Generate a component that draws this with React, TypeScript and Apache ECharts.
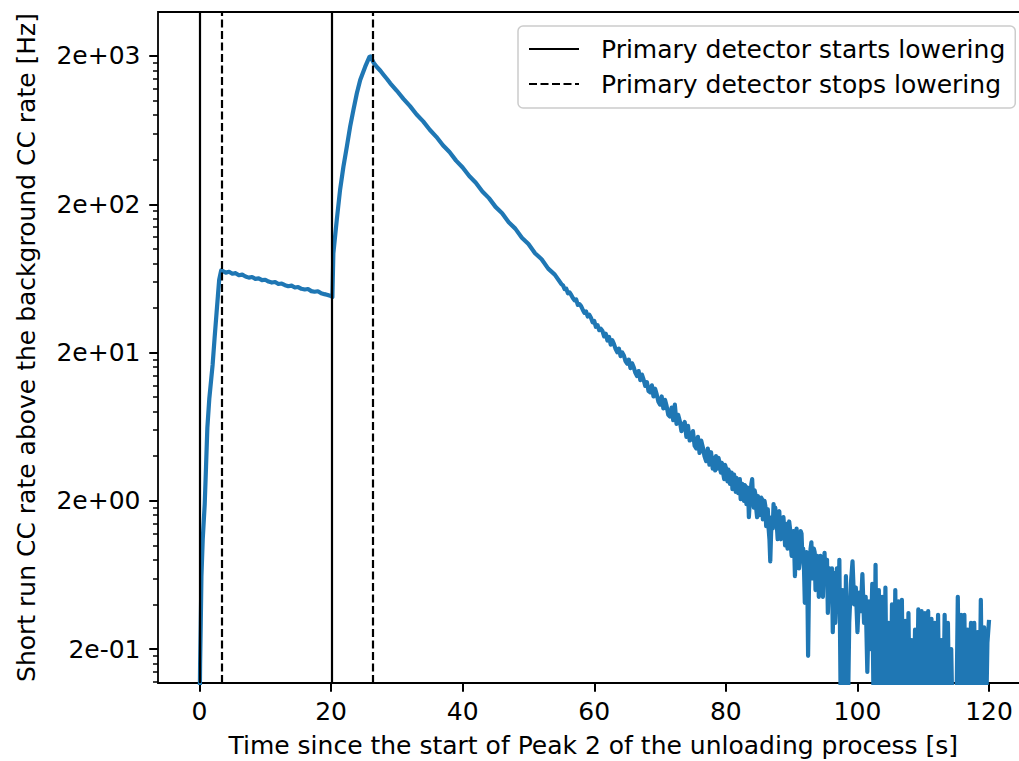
import React, { useEffect, useRef } from "react";
import * as echarts from "echarts";

const FONT = "'DejaVu Sans', 'Liberation Sans', sans-serif";

const xTitle = "Time since the start of Peak 2 of the unloading process [s]";
const yTitle = "Short run CC rate above the background CC rate [Hz]";
const startsLabel = "Primary detector starts lowering";
const stopsLabel = "Primary detector stops lowering";

// vertical marker times [s]
const startTimes = [0, 20.1];
const stopTimes = [3.4, 26.3];

// axis ticks
const xTickValues = [0, 20, 40, 60, 80, 100, 120];
const yTickValues = [0.2, 2, 20, 200, 2000];
const xMin = -6.3;
const xMax = 126.0;
const yMin = 0.118;
const yMax = 3961;

// [time s, rate Hz]; readings below the axis floor are stored as 0.05
const firstRise: [number, number][] = [
  [0, 0.05], [0.1, 0.16], [0.2, 0.3], [0.3, 0.62], [0.5, 1.1], [0.8, 1.9], [1.0, 3.4],
  [1.2, 6.2], [1.5, 9.8], [2.0, 16.5], [2.3, 25], [2.6, 37], [2.8, 48], [3.0, 62], [3.3, 71.5],
];

const plateau: [number, number][] = [
  [3.5, 71.0], [4.0, 69.2], [4.5, 70.1], [5.0, 68.0], [5.5, 68.6], [6.0, 66.4], [6.5, 67.0],
  [7.0, 65.1], [7.5, 64.0], [8.0, 64.6], [8.5, 62.8], [9.0, 63.2], [9.5, 61.5], [10.0, 61.9],
  [10.5, 60.2], [11.0, 59.3], [11.5, 59.8], [12.0, 58.0], [12.5, 58.4], [13.0, 56.9], [13.5, 56.0],
  [14.0, 56.5], [14.5, 54.9], [15.0, 55.3], [15.5, 53.8], [16.0, 53.2], [16.5, 53.6], [17.0, 51.9],
  [17.5, 51.4], [18.0, 51.8], [18.5, 50.2], [19.0, 49.5], [19.5, 48.9], [20.0, 48.0], [20.2, 47.3],
];

const secondRise: [number, number][] = [
  [20.35, 93.5], [20.87, 157], [21.37, 250], [21.88, 359], [22.4, 489], [22.9, 667],
  [23.4, 865], [23.92, 1121], [24.43, 1378], [25.19, 1694], [25.85, 1978],
];

const smoothDecay: [number, number][] = [
  [26.0, 1985], [26.5, 1790], [27.0, 1680], [27.5, 1590], [28.0, 1490], [28.5, 1400],
  [29, 1308], [30, 1165], [31, 1028], [32, 918], [33, 806], [34, 724], [35, 636], [36, 570],
  [37, 500], [38, 450], [39, 394], [40, 354], [41, 310], [42, 279], [43, 244], [44, 220],
  [45, 192], [46, 174], [47, 151], [48, 137], [49, 119], [50, 108], [51, 93.5], [52, 85.2],
  [53, 73.6], [54, 67.1], [55, 57.9],
];

const noisyDecay: [number, number][] = [
  [55.25, 56.8], [55.5, 53.6], [55.75, 53.9], [56, 50.2], [56.25, 50.9], [56.5, 48.9], [56.75, 46.6],
  [57, 45.0], [57.25, 45.6], [57.5, 41.9], [57.75, 42.4], [58, 41.1], [58.25, 38.9], [58.5, 37.0],
  [58.75, 37.9], [59, 35.0], [59.25, 35.9], [59.5, 34.3], [59.75, 32.0], [60, 32.6], [60.25, 29.8],
  [60.5, 30.6], [60.75, 28.3], [61, 28.9], [61.25, 27.9], [61.5, 25.7], [61.75, 26.8], [62, 24.1],
  [62.25, 25.5], [62.5, 22.6], [62.75, 24.2], [63, 22.8], [63.25, 21.1], [63.5, 20.1], [63.75, 21.2],
  [64, 18.9], [64.25, 20.0], [64.5, 19.1], [64.75, 17.5], [65, 16.8], [65.25, 17.9], [65.5, 15.7],
  [65.75, 16.9], [66, 15.9], [66.25, 14.6], [66.5, 13.9], [66.75, 15.0], [67, 13.0], [67.25, 14.2],
  [67.5, 13.1], [67.75, 11.9], [68, 12.6], [68.25, 11.0], [68.5, 10.8], [68.75, 12.0], [69, 10.1],
  [69.25, 11.4], [69.5, 10.4], [69.75, 9.3], [70, 8.9], [70.25, 10.1], [70.5, 8.4], [70.75, 9.6],
  [71, 8.7], [71.25, 7.6], [71.5, 7.4], [71.75, 8.5], [72, 7.0], [72.25, 8.9], [72.5, 6.6],
  [72.75, 7.6], [73, 6.9], [73.25, 5.9], [73.5, 6.5], [73.75, 6.8], [74, 5.4], [74.25, 6.4],
  [74.5, 5.1], [74.75, 5.2], [75, 5.9], [75.25, 4.7], [75.5, 4.5], [75.75, 5.4], [76, 4.2],
  [76.25, 5.1], [76.5, 4.6], [76.75, 4.0], [77, 3.7], [77.25, 4.5], [77.5, 3.5], [77.75, 4.25],
  [78, 3.3],
];

const tailA: [number, number][] = [
  [78.125, 3.9], [78.25, 3.55], [78.375, 3.2], [78.5, 4.0], [78.625, 3.6], [78.75, 3.3],
  [78.875, 3.9], [79, 3.7], [79.125, 3.3], [79.25, 3.1], [79.375, 3.6], [79.5, 3.5],
  [79.625, 3.0], [79.75, 2.8], [79.875, 3.5], [80, 3.35], [80.125, 2.95], [80.25, 2.7],
  [80.375, 3.25], [80.5, 3.15], [80.625, 2.6], [80.75, 2.9], [80.875, 3.1], [81, 2.4],
  [81.125, 2.75], [81.25, 3.0], [81.375, 2.55], [81.5, 2.3], [81.625, 2.85], [81.75, 2.75],
  [81.875, 2.25], [82, 2.55], [82.125, 2.8], [82.25, 2.05], [82.375, 2.45], [82.5, 2.6],
  [82.625, 2.15], [82.75, 2.0], [82.875, 2.55], [83, 2.5], [83.125, 1.9], [83.25, 2.25],
  [83.375, 2.45], [83.5, 1.55], [83.625, 1.95], [83.75, 2.2], [83.875, 2.6], [84, 2.8],
  [84.125, 2.1], [84.25, 1.8], [84.375, 2.35], [84.5, 2.2], [84.625, 1.75], [84.75, 1.55],
  [84.875, 2.15], [85, 2.0],
];

const tailB: [number, number][] = [
  [85.125, 1.6], [85.25, 1.75], [85.375, 2.1], [85.5, 2.05], [85.625, 1.5], [85.75, 1.55],
  [85.875, 2.0], [86, 1.85], [86.125, 1.35], [86.25, 1.6], [86.375, 1.75], [86.5, 1.3],
  [86.625, 1.1], [86.75, 0.78], [86.875, 1.2], [87, 1.55], [87.125, 1.3], [87.25, 1.9],
  [87.375, 1.5], [87.5, 1.8], [87.625, 1.6], [87.75, 1.35], [87.875, 1.1], [88, 1.6],
  [88.125, 1.7], [88.25, 1.2], [88.375, 1.1], [88.5, 1.45], [88.625, 1.25], [88.75, 1.55],
  [88.875, 1.3], [89, 1.0], [89.125, 1.2], [89.25, 1.4], [89.375, 0.95], [89.5, 1.15],
  [89.625, 1.45], [89.75, 1.3], [89.875, 1.0], [90, 0.85], [90.125, 1.15], [90.25, 1.25],
  [90.375, 1.0], [90.5, 0.62], [90.625, 0.95], [90.75, 1.3], [90.875, 1.05], [91, 1.1],
  [91.125, 0.7], [91.25, 0.8], [91.375, 1.25], [91.5, 1.2], [91.625, 0.85], [91.75, 0.95],
  [91.875, 0.7], [92, 0.41], [92.125, 0.65], [92.25, 0.9], [92.375, 0.6], [92.5, 0.18],
  [92.625, 0.5], [92.75, 0.75], [92.875, 0.95], [93, 1.05], [93.125, 0.6], [93.25, 0.7],
  [93.375, 0.95], [93.5, 0.9], [93.625, 0.5], [93.75, 0.55], [93.875, 0.85], [94, 0.84],
  [94.125, 0.45], [94.25, 0.6], [94.375, 0.85], [94.5, 0.78], [94.625, 0.5], [94.75, 0.45],
  [94.875, 0.7], [95, 0.89], [95.125, 0.55], [95.25, 0.62], [95.375, 0.8], [95.5, 0.35],
  [95.625, 0.5], [95.75, 0.7], [95.875, 0.6], [96, 0.5], [96.125, 0.7], [96.25, 0.26],
  [96.375, 0.45], [96.5, 0.65], [96.625, 0.3], [96.75, 0.4], [96.875, 0.7], [97, 0.55],
  [97.125, 0.35],
];

const tailC: [number, number][] = [
  [97.25, 0.8], [97.5, 0.05], [97.75, 0.5], [98, 0.05], [98.25, 0.62], [98.5, 0.05], [98.75, 0.3],
  [99, 0.55], [99.25, 0.78], [99.5, 0.4], [99.75, 0.52], [100, 0.26], [100.25, 0.48], [100.5, 0.36],
  [100.75, 0.64], [101, 0.3], [101.25, 0.45], [101.5, 0.14], [101.75, 0.42], [102, 0.2],
  [102.25, 0.55], [102.5, 0.05], [102.75, 0.74], [103, 0.05], [103.25, 0.5], [103.5, 0.05],
  [103.75, 0.45], [104, 0.05], [104.25, 0.52], [104.5, 0.05], [104.75, 0.3], [105, 0.05],
  [105.25, 0.4], [105.5, 0.05], [105.75, 0.5], [106, 0.05], [106.25, 0.42], [106.5, 0.05],
  [106.75, 0.43], [107, 0.05], [107.25, 0.31], [107.5, 0.05], [107.75, 0.35], [108, 0.05],
  [108.25, 0.23], [108.5, 0.05], [108.75, 0.27], [109, 0.05], [109.25, 0.37], [109.5, 0.05],
  [109.75, 0.36], [110, 0.05], [110.25, 0.35], [110.5, 0.05], [110.75, 0.36], [111, 0.05],
  [111.25, 0.32], [111.5, 0.05], [111.75, 0.3], [112, 0.05], [112.25, 0.34], [112.5, 0.05],
  [112.75, 0.23], [113, 0.05], [113.25, 0.34], [113.5, 0.05], [113.75, 0.3], [114, 0.05],
  [114.25, 0.2], [114.5, 0.05], [114.75, 0.05], [115, 0.05], [115.25, 0.45], [115.5, 0.05],
  [115.75, 0.34], [116, 0.05], [116.25, 0.34], [116.5, 0.05], [116.75, 0.27], [117, 0.05],
  [117.25, 0.3], [117.5, 0.05], [117.75, 0.3], [118, 0.05], [118.25, 0.26], [118.5, 0.05],
  [118.75, 0.43], [119, 0.05], [119.25, 0.28], [119.5, 0.05], [119.75, 0.22], [120, 0.315],
];

const rateSeries = [
  ...firstRise, ...plateau, ...secondRise, ...smoothDecay, ...noisyDecay, ...tailA, ...tailB, ...tailC,
];

// minor log ticks at 2*m*10^k (m = 2..9), matching major ticks at 2*10^k
const minorTickValues: number[] = [];
for (let k = -2; k <= 3; k++) {
  for (let m = 2; m <= 9; m++) {
    const v = 2 * m * Math.pow(10, k - 1);
    if (v >= yMin && v <= yMax) minorTickValues.push(v);
  }
}

const sciLabel = (logv: number) => {
  const v = Math.pow(10, logv);
  let e = Math.floor(Math.log10(v) + 1e-9);
  let m = Math.round(v / Math.pow(10, e));
  if (m >= 10) {
    m = 1;
    e += 1;
  }
  const sign = e < 0 ? "-" : "+";
  return `${m}e${sign}${String(Math.abs(e)).padStart(2, "0")}`;
};

const textBase = { fontFamily: FONT, fontSize: 25, color: "#000" };

export default function App() {
  const ref = useRef<HTMLDivElement>(null);

  useEffect(() => {
    if (!ref.current) return;
    const chart = echarts.init(ref.current, undefined, { renderer: "svg" });
    const logMin = Math.log10(yMin);
    const logMax = Math.log10(yMax);
    const option: any = {
      animation: false,
      backgroundColor: "#ffffff",
      textStyle: { fontFamily: FONT },
      grid: {
        left: 158,
        top: 12,
        width: (xMax - xMin) * 6.58,
        height: 671,
        show: true,
        borderColor: "#000",
        borderWidth: 1.8,
        backgroundColor: "transparent",
        containLabel: false,
        outerBoundsMode: "none",
      },
      legend: {
        data: [startsLabel, stopsLabel],
        orient: "vertical",
        left: 518,
        top: 26,
        itemWidth: 50,
        itemHeight: 14,
        itemGap: 7,
        padding: [9, 10, 10, 10],
        backgroundColor: "rgba(255,255,255,0.85)",
        borderColor: "#cccccc",
        borderWidth: 1.5,
        borderRadius: 5,
        selectedMode: false,
        itemStyle: { opacity: 0 },
        textStyle: { ...textBase, lineHeight: 28, padding: [0, 0, 0, 17] },
      },
      xAxis: {
        type: "value",
        min: xMin,
        max: xMax,
        axisLine: { show: false, onZero: false },
        axisTick: {
          show: true,
          customValues: xTickValues,
          length: 8.75,
          lineStyle: { color: "#000", width: 2 },
        },
        axisLabel: { customValues: xTickValues, margin: 16, ...textBase },
        splitLine: { show: false },
        name: xTitle,
        nameLocation: "middle",
        nameGap: 50,
        nameTextStyle: textBase,
      },
      yAxis: [
        {
          type: "log",
          logBase: 10,
          min: yMin,
          max: yMax,
          show: false,
        },
        {
          type: "value",
          min: logMin,
          max: logMax,
          position: "left",
          axisLine: { show: false, onZero: false },
          axisTick: {
            show: true,
            customValues: yTickValues.map((v) => Math.log10(v)),
            length: 8.75,
            lineStyle: { color: "#000", width: 2 },
          },
          axisLabel: {
            customValues: yTickValues.map((v) => Math.log10(v)),
            formatter: (val: number) => sciLabel(val),
            margin: 17.5,
            ...textBase,
          },
          splitLine: { show: false },
          name: yTitle,
          nameLocation: "middle",
          nameGap: 119,
          nameTextStyle: textBase,
        },
        {
          type: "value",
          min: logMin,
          max: logMax,
          position: "left",
          axisLine: { show: false, onZero: false },
          axisTick: {
            show: true,
            customValues: minorTickValues.map((v) => Math.log10(v)),
            length: 5,
            lineStyle: { color: "#000", width: 1.5 },
          },
          axisLabel: { show: false },
          splitLine: { show: false },
        },
      ],
      series: [
        {
          type: "line",
          name: "rate",
          xAxisIndex: 0,
          yAxisIndex: 0,
          data: rateSeries,
          symbol: "none",
          showSymbol: false,
          clip: true,
          lineStyle: { color: "#1f77b4", width: 4.2, join: "round" },
          emphasis: { disabled: true },
          z: 2,
        },
        {
          type: "line",
          name: startsLabel,
          xAxisIndex: 0,
          yAxisIndex: 0,
          data: [],
          symbol: "none",
          lineStyle: { color: "#000", width: 2.2, type: "solid" },
          itemStyle: { color: "#000" },
          z: 3,
          markLine: {
            silent: true,
            symbol: ["none", "none"],
            label: { show: false },
            emphasis: { disabled: true },
            lineStyle: { color: "#000", width: 2.2, type: "solid" },
            data: startTimes.map((t) => ({ xAxis: t })),
          },
        },
        {
          type: "line",
          name: stopsLabel,
          xAxisIndex: 0,
          yAxisIndex: 0,
          data: [],
          symbol: "none",
          lineStyle: { color: "#000", width: 2.2, type: [8, 3.5] },
          itemStyle: { color: "#000" },
          z: 3,
          markLine: {
            silent: true,
            symbol: ["none", "none"],
            label: { show: false },
            emphasis: { disabled: true },
            lineStyle: { color: "#000", width: 2.2, type: [8, 3.5] },
            data: stopTimes.map((t) => ({ xAxis: t })),
          },
        },
      ],
    };
    chart.setOption(option);
    return () => chart.dispose();
  }, []);

  return (
    <div
      style={{
        position: "fixed",
        left: 0,
        top: 0,
        width: 1019,
        height: 761,
        overflow: "hidden",
        background: "#fff",
      }}
    >
      <div ref={ref} style={{ width: 1060, height: 761 }} />
    </div>
  );
}
